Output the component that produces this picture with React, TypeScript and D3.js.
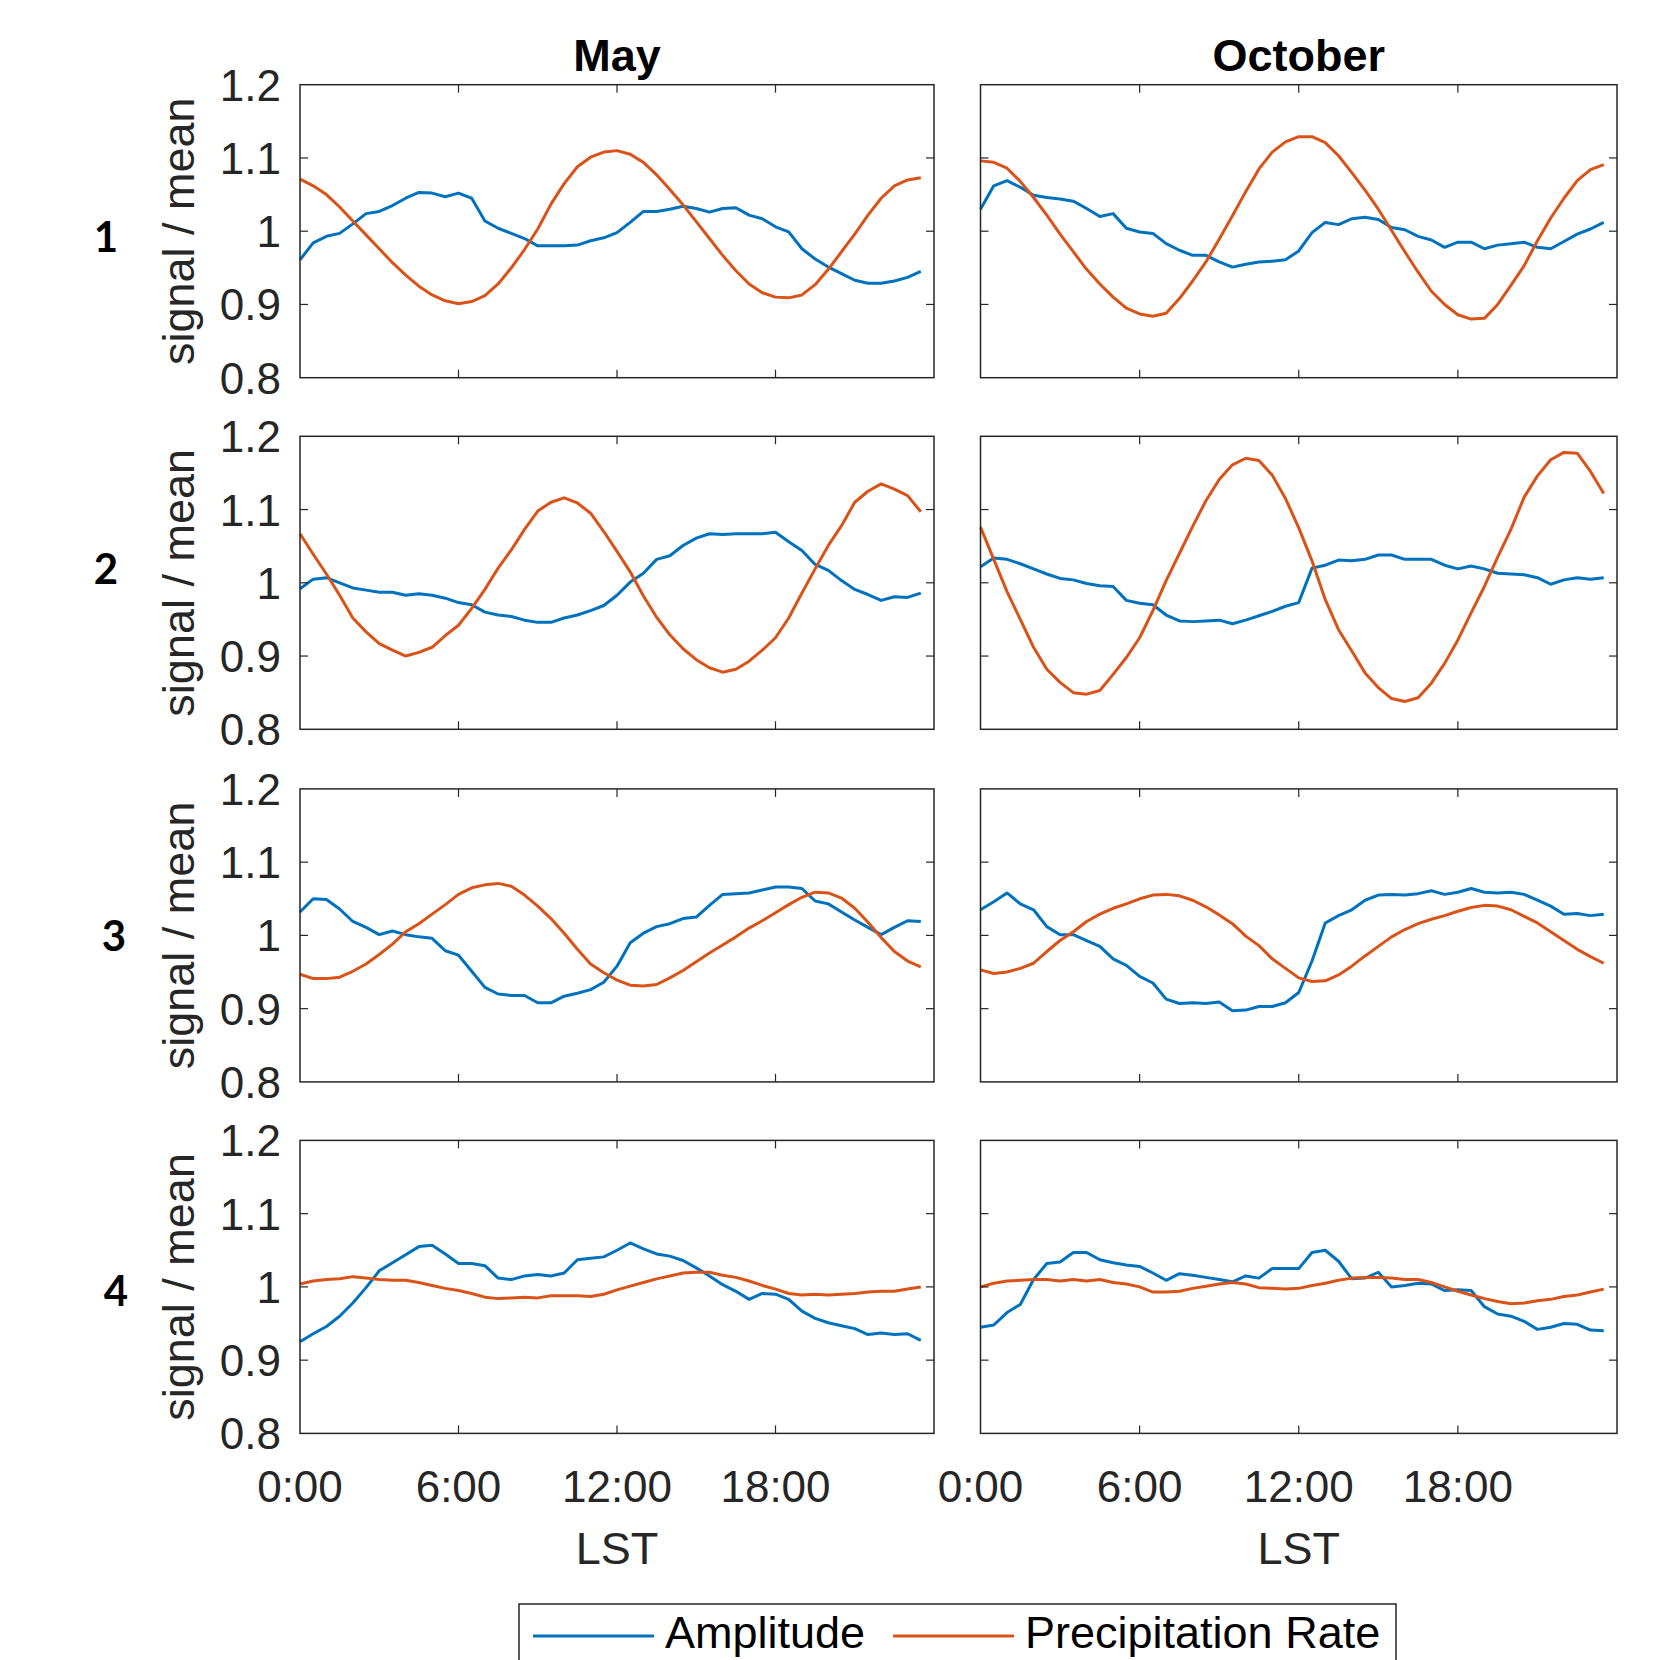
import React from 'react';
import * as d3 from 'd3';

// ---------------- data ----------------
const HOURS = d3.range(0, 24, 0.5);
const COLUMNS = ['May', 'October'];
const ROW_LABELS = ['1', '2', '3', '4'];
const Y_TICKS = [0.8, 0.9, 1.0, 1.1, 1.2];
const Y_TICK_LABELS = ['0.8', '0.9', '1', '1.1', '1.2'];
const X_TICKS = [0, 6, 12, 18];
const X_TICK_LABELS = ['0:00', '6:00', '12:00', '18:00'];
const SERIES_NAMES = ['Amplitude', 'Precipitation Rate'];
const Y_LABEL = 'signal / mean';
const X_LABEL = 'LST';

const MAY_AMP_1 = [0.961,0.984,0.993,0.997,1.010,1.024,1.027,1.035,1.045,1.053,1.052,1.047,1.052,1.045,1.014,1.004,0.997,0.990,0.980,0.980,0.980,0.981,0.987,0.991,0.998,1.012,1.027,1.027,1.030,1.034,1.031,1.026,1.031,1.032,1.022,1.017,1.006,0.999,0.976,0.962,0.951,0.942,0.933,0.929,0.929,0.932,0.937,0.945];
const MAY_PRE_1 = [1.071,1.062,1.050,1.033,1.014,0.995,0.976,0.957,0.940,0.925,0.913,0.905,0.901,0.904,0.912,0.928,0.950,0.975,1.003,1.037,1.065,1.088,1.101,1.108,1.110,1.105,1.094,1.077,1.057,1.036,1.013,0.990,0.967,0.946,0.928,0.916,0.910,0.909,0.913,0.927,0.948,0.972,0.996,1.022,1.045,1.062,1.070,1.073];
const OCT_AMP_1 = [1.030,1.062,1.069,1.060,1.049,1.046,1.044,1.041,1.031,1.020,1.024,1.004,0.999,0.997,0.983,0.974,0.967,0.967,0.958,0.951,0.955,0.958,0.959,0.961,0.973,0.998,1.012,1.009,1.017,1.019,1.016,1.005,1.002,0.993,0.988,0.978,0.985,0.985,0.976,0.981,0.983,0.985,0.978,0.976,0.986,0.996,1.003,1.012];
const OCT_PRE_1 = [1.096,1.094,1.086,1.068,1.046,1.022,0.996,0.972,0.948,0.928,0.910,0.895,0.887,0.884,0.888,0.908,0.932,0.958,0.989,1.021,1.054,1.085,1.108,1.122,1.129,1.129,1.121,1.103,1.080,1.056,1.030,1.001,0.972,0.944,0.918,0.900,0.886,0.880,0.881,0.900,0.926,0.953,0.987,1.018,1.045,1.069,1.084,1.091];

const MAY_AMP_2 = [0.992,1.005,1.007,1.000,0.993,0.990,0.987,0.987,0.983,0.985,0.983,0.979,0.973,0.970,0.960,0.956,0.954,0.949,0.946,0.946,0.952,0.956,0.962,0.969,0.983,1.001,1.013,1.032,1.037,1.051,1.061,1.067,1.066,1.067,1.067,1.067,1.069,1.056,1.044,1.025,1.017,1.003,0.991,0.984,0.976,0.981,0.980,0.986];
const MAY_PRE_2 = [1.067,1.039,1.012,0.983,0.952,0.933,0.917,0.908,0.900,0.905,0.912,0.928,0.942,0.965,0.991,1.020,1.045,1.073,1.098,1.110,1.116,1.109,1.095,1.070,1.043,1.015,0.982,0.953,0.929,0.910,0.895,0.884,0.878,0.882,0.893,0.908,0.925,0.952,0.986,1.019,1.051,1.078,1.110,1.125,1.135,1.128,1.119,1.097];
const OCT_AMP_2 = [1.022,1.034,1.032,1.026,1.019,1.012,1.006,1.004,0.999,0.996,0.995,0.976,0.972,0.970,0.956,0.948,0.947,0.948,0.949,0.944,0.949,0.955,0.961,0.968,0.973,1.020,1.024,1.031,1.030,1.032,1.038,1.038,1.032,1.032,1.032,1.024,1.019,1.023,1.019,1.013,1.012,1.011,1.007,0.998,1.004,1.007,1.005,1.007];
const OCT_PRE_2 = [1.076,1.032,0.988,0.950,0.912,0.882,0.864,0.850,0.848,0.853,0.875,0.898,0.925,0.962,1.003,1.040,1.077,1.112,1.141,1.161,1.170,1.167,1.147,1.115,1.075,1.030,0.977,0.936,0.907,0.877,0.857,0.842,0.838,0.843,0.863,0.890,0.922,0.959,0.995,1.035,1.073,1.117,1.146,1.168,1.178,1.177,1.152,1.122];

const MAY_AMP_3 = [1.032,1.050,1.049,1.036,1.019,1.011,1.001,1.006,1.001,0.998,0.996,0.979,0.973,0.951,0.929,0.920,0.918,0.918,0.908,0.908,0.917,0.921,0.926,0.936,0.958,0.990,1.003,1.012,1.016,1.023,1.025,1.041,1.056,1.057,1.058,1.062,1.066,1.066,1.064,1.047,1.043,1.032,1.021,1.011,1.001,1.011,1.020,1.019];
const MAY_PRE_3 = [0.947,0.941,0.941,0.943,0.951,0.961,0.974,0.988,1.005,1.016,1.029,1.042,1.056,1.065,1.069,1.071,1.067,1.055,1.040,1.023,1.003,0.981,0.961,0.949,0.939,0.932,0.931,0.933,0.942,0.952,0.964,0.976,0.987,0.998,1.010,1.020,1.031,1.042,1.052,1.059,1.058,1.051,1.037,1.018,0.997,0.978,0.965,0.957];
const OCT_AMP_3 = [1.035,1.046,1.058,1.043,1.035,1.012,1.001,1.001,0.993,0.985,0.968,0.959,0.944,0.935,0.913,0.907,0.908,0.907,0.909,0.897,0.898,0.903,0.903,0.908,0.922,0.965,1.017,1.027,1.035,1.048,1.055,1.056,1.055,1.057,1.061,1.056,1.059,1.064,1.059,1.058,1.059,1.056,1.048,1.040,1.029,1.030,1.027,1.029];
const OCT_PRE_3 = [0.953,0.948,0.950,0.955,0.962,0.978,0.993,1.005,1.019,1.029,1.037,1.043,1.050,1.055,1.056,1.054,1.048,1.039,1.028,1.016,0.999,0.986,0.968,0.955,0.942,0.937,0.938,0.946,0.958,0.972,0.985,0.998,1.008,1.016,1.022,1.027,1.033,1.038,1.041,1.040,1.035,1.026,1.017,1.005,0.993,0.981,0.971,0.962];

const MAY_AMP_4 = [0.925,0.936,0.946,0.960,0.978,0.999,1.022,1.033,1.044,1.055,1.057,1.045,1.032,1.032,1.029,1.012,1.010,1.015,1.017,1.015,1.019,1.037,1.039,1.041,1.050,1.060,1.052,1.045,1.042,1.036,1.026,1.015,1.003,0.994,0.983,0.991,0.990,0.983,0.967,0.957,0.951,0.947,0.943,0.935,0.937,0.935,0.936,0.927];
const MAY_PRE_4 = [1.004,1.008,1.010,1.011,1.014,1.012,1.010,1.009,1.009,1.006,1.002,0.998,0.995,0.991,0.986,0.984,0.985,0.986,0.985,0.988,0.988,0.988,0.987,0.990,0.996,1.001,1.006,1.011,1.015,1.019,1.020,1.020,1.016,1.013,1.008,1.002,0.997,0.991,0.989,0.990,0.989,0.990,0.991,0.993,0.994,0.994,0.997,1.000];
const OCT_AMP_4 = [0.945,0.948,0.965,0.976,1.010,1.032,1.034,1.047,1.047,1.037,1.033,1.030,1.028,1.019,1.009,1.018,1.016,1.013,1.010,1.007,1.015,1.012,1.025,1.025,1.025,1.047,1.050,1.035,1.011,1.012,1.020,1.000,1.002,1.005,1.004,0.995,0.996,0.995,0.973,0.963,0.960,0.953,0.942,0.945,0.950,0.949,0.941,0.940];
const OCT_PRE_4 = [1.000,1.005,1.008,1.009,1.010,1.010,1.008,1.010,1.008,1.010,1.006,1.004,1.000,0.993,0.993,0.994,0.998,1.001,1.004,1.006,1.004,0.999,0.998,0.997,0.998,1.002,1.005,1.009,1.012,1.013,1.013,1.012,1.010,1.010,1.006,1.000,0.994,0.989,0.984,0.980,0.977,0.978,0.981,0.983,0.987,0.989,0.993,0.997];

const AMP = [
  [MAY_AMP_1, OCT_AMP_1],
  [MAY_AMP_2, OCT_AMP_2],
  [MAY_AMP_3, OCT_AMP_3],
  [MAY_AMP_4, OCT_AMP_4],
];
const PRE = [
  [MAY_PRE_1, OCT_PRE_1],
  [MAY_PRE_2, OCT_PRE_2],
  [MAY_PRE_3, OCT_PRE_3],
  [MAY_PRE_4, OCT_PRE_4],
];

// ---------------- layout / style ----------------
const W = 1655;
const H = 1660;
const COL_X: [number, number][] = [[300, 934], [980.5, 1617]];
const ROW_TOP = [84.7, 436.3, 788.9, 1140.4];
const PANEL_H = 293;
const ROW_LABEL_POS: [number, number][] = [[106, 237], [106, 569], [114, 936], [116, 1291]];
const BLUE = '#0072BD';
const ORANGE = '#D95319';
const AXIS = '#262626';
const FONT = '"Liberation Sans", Arial, Helvetica, sans-serif';
const TICK_LEN = 8;
const LW = 3;

function Panel({ r, c }: { r: number; c: number }) {
  const [x0, x1] = COL_X[c];
  const y0 = ROW_TOP[r];
  const y1 = y0 + PANEL_H;
  const x = d3.scaleLinear().domain([0, 24]).range([x0, x1]);
  const y = d3.scaleLinear().domain([0.8, 1.2]).range([y1, y0]);
  const line = d3
    .line<number>()
    .x((_, i) => x(HOURS[i]))
    .y((v) => y(v));
  const isLeft = c === 0;
  const isBottom = r === ROW_TOP.length - 1;
  return (
    <g>
      <path d={line(AMP[r][c]) || ''} fill="none" stroke={BLUE} strokeWidth={LW} strokeLinejoin="round" />
      <path d={line(PRE[r][c]) || ''} fill="none" stroke={ORANGE} strokeWidth={LW} strokeLinejoin="round" />
      <rect x={x0} y={y0} width={x1 - x0} height={y1 - y0} fill="none" stroke={AXIS} strokeWidth={1.5} />
      {X_TICKS.filter((t) => t > 0).map((t) => (
        <g key={'xt' + t}>
          <line x1={x(t)} x2={x(t)} y1={y1} y2={y1 - TICK_LEN} stroke={AXIS} strokeWidth={1.2} />
          <line x1={x(t)} x2={x(t)} y1={y0} y2={y0 + TICK_LEN} stroke={AXIS} strokeWidth={1.2} />
        </g>
      ))}
      {Y_TICKS.filter((t) => t > 0.8 && t < 1.2).map((t) => (
        <g key={'yt' + t}>
          <line x1={x0} x2={x0 + TICK_LEN} y1={y(t)} y2={y(t)} stroke={AXIS} strokeWidth={1.2} />
          <line x1={x1} x2={x1 - TICK_LEN} y1={y(t)} y2={y(t)} stroke={AXIS} strokeWidth={1.2} />
        </g>
      ))}
      {isLeft &&
        Y_TICKS.map((t, i) => (
          <text
            key={'yl' + t}
            x={x0 - 19}
            y={y(t) + 16}
            textAnchor="end"
            fontSize={44}
            fill={AXIS}
            fontFamily={FONT}
          >
            {Y_TICK_LABELS[i]}
          </text>
        ))}
      {isLeft && (
        <text
          transform={`translate(194, ${(y0 + y1) / 2}) rotate(-90)`}
          textAnchor="middle"
          fontSize={45}
          fill={AXIS}
          fontFamily={FONT}
        >
          {Y_LABEL}
        </text>
      )}
      {isBottom &&
        X_TICKS.map((t, i) => (
          <text key={'xl' + t} x={x(t)} y={1502} textAnchor="middle" fontSize={44} fill={AXIS} fontFamily={FONT}>
            {X_TICK_LABELS[i]}
          </text>
        ))}
      {isBottom && (
        <text x={(x0 + x1) / 2} y={1564} textAnchor="middle" fontSize={45} fill={AXIS} fontFamily={FONT}>
          {X_LABEL}
        </text>
      )}
      {r === 0 && (
        <text x={(x0 + x1) / 2} y={71} textAnchor="middle" fontSize={45} fontWeight="bold" fill="#000" fontFamily={FONT}>
          {COLUMNS[c]}
        </text>
      )}
    </g>
  );
}

export default function App() {
  const legendItems = [
    { name: SERIES_NAMES[0], color: BLUE, lx: 533, tx: 665 },
    { name: SERIES_NAMES[1], color: ORANGE, lx: 893, tx: 1025 },
  ];
  return (
    <svg
      width={W}
      height={H}
      viewBox={`0 0 ${W} ${H}`}
      style={{ position: 'absolute', left: 0, top: 0, background: '#fff' }}
    >
      <rect x={0} y={0} width={W} height={H} fill="#fff" />
      {ROW_TOP.map((_, r) =>
        COLUMNS.map((__, c) => <Panel key={`${r}-${c}`} r={r} c={c} />)
      )}
      {ROW_LABELS.map((lab, i) => (
        <text
          key={'rl' + lab}
          x={ROW_LABEL_POS[i][0]}
          y={ROW_LABEL_POS[i][1] + 15}
          textAnchor="middle"
          fontSize={42}
          fontWeight="bold"
          fill="#000"
          fontFamily='Lato, "Open Sans", sans-serif'
        >
          {lab}
        </text>
      ))}
      <rect x={519} y={1604} width={877} height={120} fill="#fff" stroke={AXIS} strokeWidth={1.5} />
      {legendItems.map((it) => (
        <g key={it.name}>
          <line x1={it.lx} x2={it.lx + 121} y1={1636} y2={1636} stroke={it.color} strokeWidth={LW} />
          <text x={it.tx} y={1648} fontSize={45} fill="#000" fontFamily={FONT}>
            {it.name}
          </text>
        </g>
      ))}
    </svg>
  );
}
